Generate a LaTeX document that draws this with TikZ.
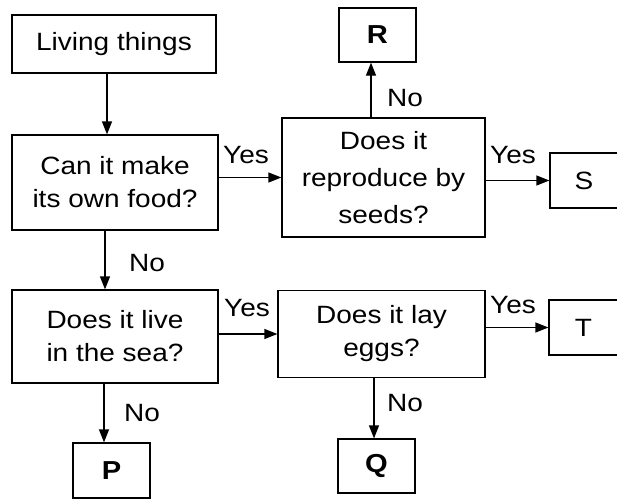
\documentclass[tikz,border=0pt]{standalone}
\usepackage{fontspec}
\setmainfont[FakeStretch=1.12]{Liberation Sans}
\usetikzlibrary{arrows.meta}
\begin{document}
\begin{tikzpicture}[x=1pt,y=-1pt,
  box/.style={draw, line width=1.2pt, align=center, inner sep=0pt,
    font=\fontsize{25}{33}\selectfont},
  letterbox/.style={box, font=\fontsize{26}{30}\selectfont\bfseries},
  arr/.style={-{Triangle[length=13pt,width=10pt]}, line width=1.2pt},
  lbl/.style={font=\fontsize{25}{30}\selectfont, inner sep=0pt}]
\useasboundingbox[fill=white] (0,0) rectangle (617,499);

\node[box, minimum width=204pt, minimum height=58pt] (living) at (114,44) {Living things};
\node[box, minimum width=206pt, minimum height=95pt] (can) at (115,182.5) {Can it make\\its own food?};
\node[box, minimum width=203pt, minimum height=119pt,
  font=\fontsize{25}{37}\selectfont] (repro) at (383.5,177.5) {Does it\\reproduce by\\seeds?};
\node[letterbox, minimum width=77pt, minimum height=54pt] (R) at (377.5,35) {R};
\node[box, minimum width=76pt, minimum height=55pt] (S) at (588,180.5) {\hspace*{-8pt}S};
\node[box, minimum width=206pt, minimum height=93pt] (live) at (115,336.5) {Does it live\\in the sea?};
\node[box, minimum width=207pt, minimum height=87pt] (eggs) at (381.5,334) {Does it lay\\eggs?};
\node[box, minimum width=77pt, minimum height=55pt] (T) at (587.5,327.5) {\hspace*{-8pt}T};
\node[letterbox, minimum width=77pt, minimum height=55pt] (P) at (111.5,470.5) {P};
\node[letterbox, minimum width=77pt, minimum height=54pt] (Q) at (376.5,466) {Q};

\coordinate (lx) at ([xshift=-7pt]living.south);
\draw[arr] (lx) -- (lx |- can.north);
\draw[arr] (repro.west -| can.east) -- (repro.west);
\coordinate (rx) at ([xshift=-6.5pt]R.south);
\draw[arr] (rx |- repro.north) -- (rx);
\draw[arr] (S.west -| repro.east) -- (S.west);
\coordinate (cx) at ([xshift=-10pt]can.south);
\draw[arr] (cx) -- (cx |- live.north);
\draw[arr] (eggs.west -| live.east) -- (eggs.west);
\coordinate (px) at ([xshift=-11pt]live.south);
\draw[arr] (px) -- (px |- P.north);
\draw[arr] (T.west -| eggs.east) -- (T.west);
\coordinate (qx) at ([xshift=-7.5pt]eggs.south);
\draw[arr] (qx) -- (qx |- Q.north);

\node[lbl] (y1) at (246,155) {Yes};
\node[lbl] (n1) at (405,98) {No};
\node[lbl] (y2) at (513,155) {Yes};
\node[lbl] (n2) at (147,263) {No};
\node[lbl] (y3) at (247,308) {Yes};
\node[lbl] (y4) at (513,305) {Yes};
\node[lbl] (n3) at (142,413) {No};
\node[lbl] (n4) at (405,403) {No};
\end{tikzpicture}
\end{document}
